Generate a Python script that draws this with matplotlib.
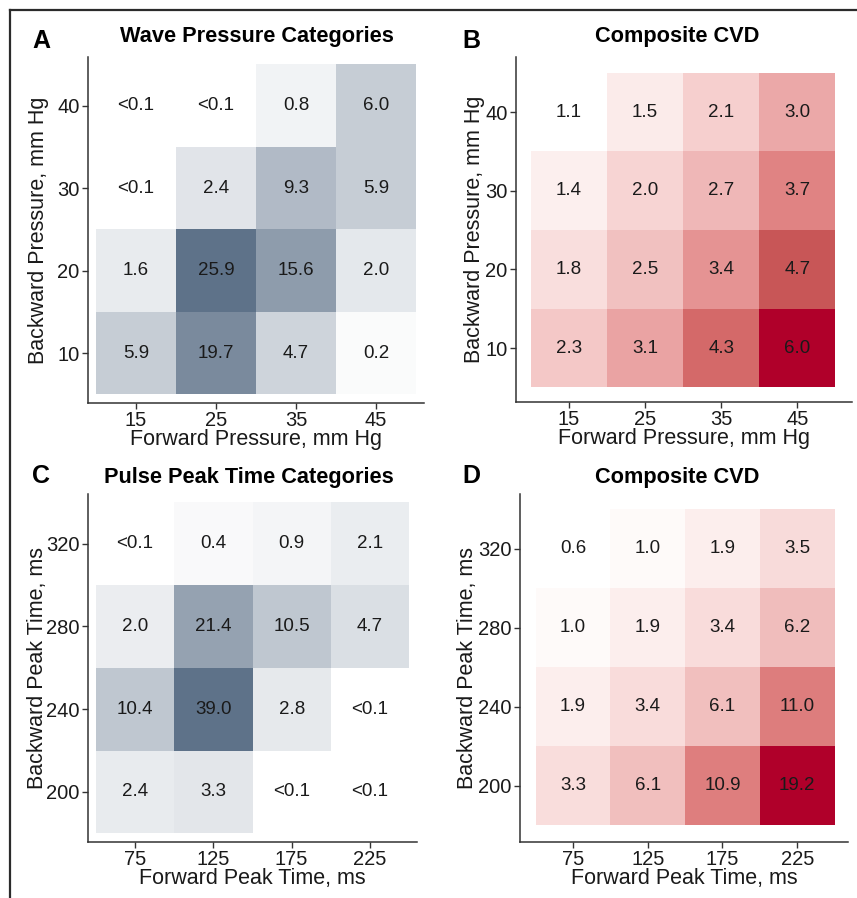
import numpy as np
import matplotlib
matplotlib.use("Agg")
import matplotlib.pyplot as plt
from matplotlib.colors import LinearSegmentedColormap, Normalize, PowerNorm
from matplotlib.lines import Line2D

plt.rcParams['font.family'] = ['Liberation Sans', 'DejaVu Sans']

# ---- data (rows = backward category from low to high, cols = forward category) ----
press_fwd = [15, 25, 35, 45]
press_bwd = [10, 20, 30, 40]
wave_pressure = [
    ["5.9", "19.7", "4.7", "0.2"],
    ["1.6", "25.9", "15.6", "2.0"],
    ["<0.1", "2.4", "9.3", "5.9"],
    ["<0.1", "<0.1", "0.8", "6.0"],
]
cvd_pressure = [
    ["2.3", "3.1", "4.3", "6.0"],
    ["1.8", "2.5", "3.4", "4.7"],
    ["1.4", "2.0", "2.7", "3.7"],
    ["1.1", "1.5", "2.1", "3.0"],
]

time_fwd = [75, 125, 175, 225]
time_bwd = [200, 240, 280, 320]
peak_time = [
    ["2.4", "3.3", "<0.1", "<0.1"],
    ["10.4", "39.0", "2.8", "<0.1"],
    ["2.0", "21.4", "10.5", "4.7"],
    ["<0.1", "0.4", "0.9", "2.1"],
]
cvd_time = [
    ["3.3", "6.1", "10.9", "19.2"],
    ["1.9", "3.4", "6.1", "11.0"],
    ["1.0", "1.9", "3.4", "6.2"],
    ["0.6", "1.0", "1.9", "3.5"],
]

W, H = 857, 898
fig = plt.figure(figsize=(W / 100, H / 100), dpi=100)

blue_cmap = LinearSegmentedColormap.from_list("bl", ["#ffffff", "#5e7289"])
red_cmap = LinearSegmentedColormap.from_list("rd", [
    (0.00, "#ffffff"), (0.06, "#fcefee"), (0.14, "#f9dedd"), (0.20, "#f6d0cf"),
    (0.29, "#f1c0bf"), (0.39, "#eba8a8"), (0.47, "#e59393"), (0.53, "#e08383"),
    (0.65, "#d56a6a"), (0.73, "#c95858"), (1.00, "#b0002a")])

TXT = "#1a1a1a"
AXC = "#333333"


def to_num(labels):
    return np.array([[0.0 if s.startswith("<") else float(s) for s in row] for row in labels])


def px_axes(x0, y0, x1, y1):
    # pixel box (left, top, right, bottom) -> figure axes
    return fig.add_axes([x0 / W, 1 - y1 / H, (x1 - x0) / W, (y1 - y0) / H])


def heat(box, xs, ys, labels, cmap, norm, xlim, ylim, xlabel, ylabel, ylpad):
    ax = px_axes(*box)
    vals = to_num(labels)
    xs = np.array(xs, float)
    ys = np.array(ys, float)
    dx = xs[1] - xs[0]
    dy = ys[1] - ys[0]
    xe = np.append(xs - dx / 2, xs[-1] + dx / 2)
    ye = np.append(ys - dy / 2, ys[-1] + dy / 2)
    ax.pcolormesh(xe, ye, vals, cmap=cmap, norm=norm, edgecolors="none")
    for i, y in enumerate(ys):
        for j, x in enumerate(xs):
            ax.text(x, y, labels[i][j], ha="center", va="center",
                    fontsize=13.5, color=TXT)
    ax.set_xlim(*xlim)
    ax.set_ylim(*ylim)
    ax.set_xticks(xs)
    ax.set_yticks(ys)
    ax.set_xticklabels([str(int(v)) for v in xs])
    ax.set_yticklabels([str(int(v)) for v in ys])
    for s in ["top", "right"]:
        ax.spines[s].set_visible(False)
    for s in ["left", "bottom"]:
        ax.spines[s].set_color(AXC)
        ax.spines[s].set_linewidth(1.1)
    ax.tick_params(length=4, width=1, color=AXC, labelsize=14.5,
                   labelcolor=TXT)
    ax.tick_params(axis="x", pad=2)
    ax.tick_params(axis="y", pad=2)
    ax.set_xlabel(xlabel, fontsize=15.5, color=TXT, labelpad=-1)
    ax.set_ylabel(ylabel, fontsize=15.5, color=TXT, labelpad=ylpad)
    return ax


# A
va = to_num(wave_pressure)
heat((88, 57, 424, 403), press_fwd, press_bwd, wave_pressure, blue_cmap,
     PowerNorm(0.7, vmin=0, vmax=va.max()), (9, 51), (3.94, 45.9),
     "Forward Pressure, mm Hg", "Backward Pressure, mm Hg", 6)
# B
vb = to_num(cvd_pressure)
heat((516, 57, 852, 402), press_fwd, press_bwd, cvd_pressure, red_cmap,
     Normalize(vmin=vb.min(), vmax=vb.max()), (8.03, 52.2), (3.14, 47.0),
     "Forward Pressure, mm Hg", "Backward Pressure, mm Hg", 0)
# C
vc = to_num(peak_time)
heat((88, 494, 417, 842), time_fwd, time_bwd, peak_time, blue_cmap,
     PowerNorm(0.7, vmin=0, vmax=vc.max()), (45, 255), (175.8, 344),
     "Forward Peak Time, ms", "Backward Peak Time, ms", -1)
# D
vd = to_num(cvd_time)
heat((520, 494, 848, 842), time_fwd, time_bwd, cvd_time, red_cmap,
     Normalize(vmin=vd.min(), vmax=vd.max()), (39.5, 259), (171.6, 347.8),
     "Forward Peak Time, ms", "Backward Peak Time, ms", 0)

# panel letters and titles
def ftext(x, y, s, size, ha="left"):
    fig.text(x / W, 1 - y / H, s, fontsize=size, fontweight="bold",
             ha=ha, va="baseline", color="#000000")

ftext(32, 48, "A", 18)
ftext(462, 48, "B", 18)
ftext(32, 483, "C", 18)
ftext(462, 483, "D", 18)
ftext(257, 42, "Wave Pressure Categories", 15.7, "center")
ftext(677, 42, "Composite CVD", 15.7, "center")
ftext(249, 483, "Pulse Peak Time Categories", 15.7, "center")
ftext(677, 483, "Composite CVD", 15.7, "center")

# outer frame (left and top edges)
fig.add_artist(Line2D([10 / W, 10 / W], [0, 1 - 10 / H], color="#2b2b2b", lw=1.6))
fig.add_artist(Line2D([10 / W, 1], [1 - 10 / H, 1 - 10 / H], color="#2b2b2b", lw=1.6))

fig.savefig("out.png", dpi=100)
